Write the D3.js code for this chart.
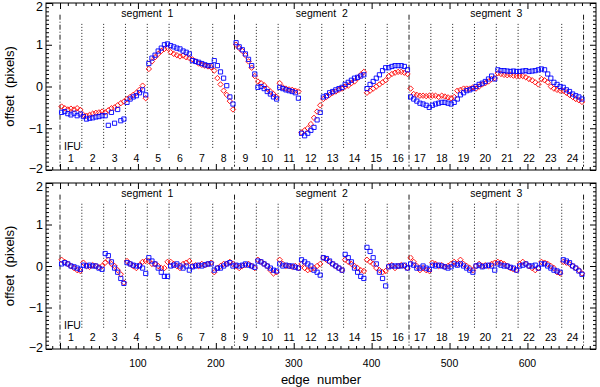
<!DOCTYPE html>
<html lang="en">
<head>
  <meta charset="UTF-8" />
  <title>Edge offsets per IFU</title>
  <script src="https://d3js.org/d3.v7.min.js"></script>
  <style>
    body { margin:0; padding:0; background:#fff; }
    svg { display:block; font-family:"Liberation Sans", Arial, sans-serif; }
    .axis text { font-size:12.5px; fill:#000; }
    .axis line { stroke:#000; }
    .axis path { display:none; }
    .lbl { font-size:10.5px; fill:#000; }
    .seg { font-size:10.5px; fill:#000; }
  </style>
</head>
<body>
  <svg width="600" height="387"></svg>

  <script>
  // segments / IFUs / axis ticks
  const segmentLabels = ["segment 1", "segment 2", "segment 3"];
  const ifuLabels = d3.range(1, 25).map(String);
  const xMajorTicks = [100, 200, 300, 400, 500, 600];
  const yMajorTicks = [-2, -1, 0, 1, 2];
  const edgesPerIfu = 28;
  const sampleEdges = [2, 6, 10, 14, 18, 22, 26];   // edge positions inside an IFU

  // top panel: measured offsets (one row per IFU)
  const topRed = [
    [-0.48,-0.52,-0.55,-0.53,-0.55,-0.52,-0.56],
    [-0.68,-0.70,-0.68,-0.65,-0.63,-0.62,-0.60],
    [-0.62,-0.57,-0.52,-0.50,-0.45,-0.40,-0.36],
    [-0.30,-0.25,-0.20,-0.15,-0.08,0.02,-0.28],
    [0.42,0.60,0.70,0.78,0.85,0.90,0.92],
    [0.82,0.78,0.75,0.72,0.74,0.70,0.68],
    [0.65,0.60,0.55,0.52,0.50,0.48,0.46],
    [0.38,0.20,0.05,-0.10,-0.20,-0.35,-0.55],
    [1.00,0.92,0.85,0.75,0.60,0.45,0.25],
    [0.12,0.08,0.03,-0.05,-0.12,-0.18,-0.25],
    [0.08,-0.02,-0.05,-0.07,-0.08,-0.10,-0.12],
    [-1.10,-1.05,-1.00,-0.90,-0.75,-0.60,-0.45],
    [-0.30,-0.25,-0.20,-0.15,-0.12,-0.08,-0.05],
    [0.00,0.02,0.08,0.12,0.20,0.28,0.35],
    [-0.15,-0.10,-0.05,0.00,0.05,0.10,0.15],
    [0.25,0.30,0.33,0.35,0.35,0.33,0.30],
    [-0.05,-0.18,-0.20,-0.22,-0.22,-0.23,-0.22],
    [-0.22,-0.22,-0.25,-0.22,-0.24,-0.26,-0.28],
    [-0.25,-0.10,-0.08,-0.05,-0.05,-0.05,-0.02],
    [-0.05,0.00,0.05,0.08,0.12,0.18,0.20],
    [0.32,0.30,0.28,0.27,0.28,0.26,0.25],
    [0.25,0.25,0.22,0.18,0.15,0.10,0.05],
    [0.18,0.15,0.10,0.00,-0.05,-0.08,-0.10],
    [-0.10,-0.15,-0.20,-0.25,-0.30,-0.33,-0.37]
  ];
  const topBlue = [
    [-0.62,-0.60,-0.65,-0.68,-0.64,-0.70,-0.66],
    [-0.72,-0.78,-0.76,-0.75,-0.73,-0.72,-0.70],
    [-0.70,-0.93,-0.62,-0.88,-0.55,-0.82,-0.78],
    [-0.38,-0.30,-0.25,-0.22,-0.15,-0.08,-0.20],
    [0.55,0.68,0.75,0.85,0.92,1.00,1.02],
    [0.98,0.95,0.92,0.90,0.85,0.82,0.78],
    [0.62,0.60,0.58,0.55,0.52,0.50,0.50],
    [0.62,0.50,0.35,0.20,0.02,-0.25,-0.42],
    [1.05,0.95,0.88,0.78,0.65,0.50,0.30],
    [-0.02,0.00,-0.05,-0.12,-0.18,-0.25,-0.30],
    [-0.02,-0.05,-0.08,-0.10,-0.12,-0.15,-0.28],
    [-1.12,-1.18,-1.12,-1.05,-0.98,-0.80,-0.62],
    [-0.25,-0.22,-0.15,-0.12,-0.08,-0.05,-0.02],
    [0.05,0.10,0.15,0.20,0.22,0.25,0.28],
    [-0.05,0.05,0.12,0.20,0.28,0.38,0.45],
    [0.45,0.48,0.50,0.50,0.50,0.48,0.40],
    [-0.25,-0.30,-0.35,-0.40,-0.42,-0.45,-0.50],
    [-0.45,-0.42,-0.40,-0.38,-0.38,-0.40,-0.42],
    [-0.38,-0.30,-0.20,-0.15,-0.10,-0.08,-0.05],
    [0.00,0.05,0.08,0.12,0.18,0.25,0.18],
    [0.40,0.38,0.38,0.37,0.36,0.37,0.36],
    [0.36,0.37,0.38,0.36,0.37,0.38,0.40],
    [0.42,0.40,0.30,0.20,0.10,0.05,0.00],
    [-0.02,-0.08,-0.12,-0.18,-0.22,-0.25,-0.30]
  ];

  // bottom panel: residual offsets
  const botRed = [
    [0.15,0.10,0.05,0.00,-0.05,-0.10,-0.12],
    [0.08,0.00,-0.02,0.02,0.00,-0.03,0.00],
    [0.08,0.15,0.05,0.00,-0.10,-0.20,-0.40],
    [0.12,0.05,0.00,-0.05,0.02,0.10,0.12],
    [0.12,0.05,0.05,0.00,-0.05,-0.05,0.10],
    [0.10,0.05,0.00,-0.05,0.05,0.08,0.12],
    [0.00,0.02,0.00,0.05,0.02,0.05,0.08],
    [-0.15,-0.05,0.00,0.05,0.05,0.10,0.05],
    [0.00,-0.05,0.00,0.02,0.05,0.00,-0.05],
    [0.15,0.10,0.05,0.00,-0.10,-0.18,-0.15],
    [0.15,0.05,0.00,0.00,-0.02,0.00,-0.05],
    [0.05,-0.05,-0.10,-0.08,-0.05,0.00,0.05],
    [0.20,0.15,0.10,0.05,0.00,-0.05,-0.10],
    [0.15,0.10,0.05,0.00,-0.05,-0.10,-0.12],
    [0.15,0.10,0.05,-0.05,-0.10,-0.15,-0.12],
    [0.00,0.02,-0.05,0.00,0.02,0.00,-0.05],
    [0.20,0.10,0.00,-0.10,-0.05,-0.10,-0.12],
    [0.08,0.05,0.00,0.02,-0.02,0.00,0.05],
    [0.10,0.05,0.15,0.05,0.00,-0.05,-0.10],
    [0.00,0.05,0.00,0.02,0.00,0.05,0.08],
    [0.10,0.08,0.05,0.00,-0.05,-0.08,-0.10],
    [0.05,0.10,0.05,0.00,-0.05,-0.10,-0.05],
    [0.10,0.08,0.05,0.00,-0.05,-0.15,-0.18],
    [0.10,0.08,0.05,0.00,-0.05,-0.10,-0.18]
  ];
  const botBlue = [
    [0.05,0.08,0.05,0.00,-0.02,-0.05,-0.08],
    [0.02,0.00,0.02,0.00,0.00,-0.05,-0.08],
    [0.30,0.25,0.10,-0.05,-0.15,-0.30,-0.42],
    [0.08,0.05,0.02,0.00,0.00,-0.05,-0.18],
    [0.20,0.12,0.05,-0.05,-0.15,-0.25,-0.25],
    [0.00,0.02,0.05,0.00,-0.05,0.00,-0.10],
    [-0.02,0.00,0.02,0.00,0.03,0.05,0.05],
    [-0.10,-0.05,-0.05,0.00,0.05,0.08,0.00],
    [0.02,0.00,0.02,0.05,0.02,0.00,-0.03],
    [0.12,0.10,0.05,0.00,-0.05,-0.10,-0.12],
    [0.05,0.00,0.02,0.00,0.00,-0.03,-0.05],
    [0.15,0.10,0.05,0.00,-0.10,-0.15,-0.22],
    [0.20,0.18,0.12,0.05,0.00,-0.05,-0.10],
    [0.28,0.20,0.10,-0.05,-0.15,-0.25,-0.30],
    [0.45,0.35,0.20,0.05,-0.15,-0.30,-0.48],
    [-0.02,0.00,0.00,0.00,0.00,0.02,-0.05],
    [0.05,0.02,-0.05,-0.05,0.00,-0.05,-0.08],
    [0.02,0.00,0.02,0.00,-0.02,-0.05,-0.02],
    [0.05,0.02,0.05,0.00,-0.05,-0.10,-0.15],
    [0.00,0.02,-0.02,0.00,0.02,0.00,-0.10],
    [0.05,0.02,0.00,0.00,-0.03,-0.05,-0.10],
    [0.00,0.02,0.05,0.00,0.00,0.02,-0.05],
    [0.05,0.05,0.00,-0.05,-0.10,-0.12,-0.15],
    [0.15,0.12,0.08,0.00,-0.05,-0.12,-0.20]
  ];

  const svg = d3.select("svg");
  const X0 = 46, X1 = 596;
  const x = d3.scaleLinear().domain([-18, 688]).range([X0, X1]);

  const panels = [
    { top: 3,   bottom: 170, red: topRed, blue: topBlue, xLabels: false },
    { top: 183, bottom: 349, red: botRed, blue: botBlue, xLabels: true }
  ];

  // flatten per-IFU rows into points
  function toPoints(rows){
    const pts = [];
    rows.forEach((row, i) => row.forEach((v, k) => {
      pts.push({ edge: i * edgesPerIfu + sampleEdges[k], v: v });
    }));
    return pts;
  }

  const diamond = "M0,-2.7L2.7,0L0,2.7L-2.7,0Z";
  const square  = "M-2.1,-2.1H2.1V2.1H-2.1Z";

  panels.forEach(p => {
    const y = d3.scaleLinear().domain([-2, 2]).range([p.bottom, p.top]);
    const g = svg.append("g");
    const H = p.bottom - p.top;

    // IFU boundaries: dotted inside a segment, dash-dot between segments
    const bounds = d3.range(0, 25).map(i => i * edgesPerIfu);
    g.selectAll(".bnd").data(bounds).enter().append("line")
      .attr("x1", d => x(d)).attr("x2", d => x(d))
      .attr("y1", d => d % (8 * edgesPerIfu) === 0 ? y(1.72) : y(1.5))
      .attr("y2", d => d % (8 * edgesPerIfu) === 0 ? y(-1.92) : y(-1.5))
      .attr("stroke", "#000")
      .attr("stroke-width", 0.9)
      .attr("stroke-dasharray", d => d % (8 * edgesPerIfu) === 0 ? "5,2,1,2" : "1,2");

    // labels
    g.selectAll(".segl").data(segmentLabels).enter().append("text")
      .attr("class", "seg")
      .attr("x", (d, i) => x((i * 8 + 4) * edgesPerIfu))
      .attr("y", p.top + 14)
      .attr("text-anchor", "middle")
      .attr("xml:space", "preserve")
      .text(d => d.replace(" ", "  "));

    g.selectAll(".ifl").data(ifuLabels).enter().append("text")
      .attr("class", "lbl")
      .attr("x", (d, i) => x(i * edgesPerIfu + edgesPerIfu / 2))
      .attr("y", p.bottom - 8)
      .attr("text-anchor", "middle")
      .text(d => d);

    g.append("text")
      .attr("class", "seg")
      .attr("font-size", "9px")
      .attr("x", x(0) + 4)
      .attr("y", p.bottom - 20)
      .text("IFU");

    // data markers
    g.selectAll(".red").data(toPoints(p.red)).enter().append("path")
      .attr("d", diamond)
      .attr("transform", d => `translate(${x(d.edge)},${y(d.v)})`)
      .attr("fill", "none").attr("stroke", "#ff0000").attr("stroke-width", 0.9);
    g.selectAll(".blue").data(toPoints(p.blue)).enter().append("path")
      .attr("d", square)
      .attr("transform", d => `translate(${x(d.edge)},${y(d.v)})`)
      .attr("fill", "none").attr("stroke", "#0000ff").attr("stroke-width", 0.9);

    // axes, ticks pointing inward on all four sides
    const xMinor = d3.range(-10, 690, 10).filter(v => v % 100 !== 0);
    const yMinor = d3.range(-19, 20).map(v => v / 10).filter(v => Math.abs(v * 10) % 10 !== 0);

    const addAxis = (axisFn, scale, tx, ty, major, minor, labels, pad) => {
      g.append("g").attr("class", "axis").attr("transform", `translate(${tx},${ty})`)
        .call(axisFn(scale).tickValues(minor).tickSizeInner(-3).tickSizeOuter(0).tickFormat(""));
      return g.append("g").attr("class", "axis").attr("transform", `translate(${tx},${ty})`)
        .call(axisFn(scale).tickValues(major).tickSizeInner(-6).tickSizeOuter(0)
          .tickPadding(pad).tickFormat(labels ? d3.format("d") : ""));
    };
    const xMaj = [0].concat(xMajorTicks);
    addAxis(d3.axisBottom, x, 0, p.bottom, xMaj, xMinor, false, 0);
    addAxis(d3.axisTop, x, 0, p.top, xMaj, xMinor, false, 0);
    const yAx = addAxis(d3.axisLeft, y, X0, 0, yMajorTicks, yMinor, true, 3);
    // keep the end labels inside the frame height, as in the original
    yAx.selectAll("text")
      .attr("dy", d => d === 2 ? "0.62em" : d === -2 ? "0.2em" : "0.32em")
      .text(d => d < 0 ? "\u2212" + Math.abs(d) : d);
    addAxis(d3.axisRight, y, X1, 0, yMajorTicks, yMinor, false, 0);

    if (p.xLabels) {
      g.selectAll(".xl").data(xMajorTicks).enter().append("text")
        .attr("class", "lbl")
        .attr("font-size", "12.5px")
        .attr("x", d => x(d))
        .attr("y", p.bottom + 18)
        .attr("text-anchor", "middle")
        .text(d => d);
    }

    // frame
    g.append("rect")
      .attr("x", X0).attr("y", p.top)
      .attr("width", X1 - X0).attr("height", H)
      .attr("fill", "none").attr("stroke", "#000").attr("stroke-width", 1);

    // y title
    g.append("text")
      .attr("transform", `translate(14,${(p.top + p.bottom) / 2}) rotate(-90)`)
      .attr("text-anchor", "middle")
      .attr("font-size", "13px")
      .attr("xml:space", "preserve")
      .text("offset  (pixels)");
  });

  svg.append("text")
    .attr("x", (X0 + X1) / 2)
    .attr("y", 384)
    .attr("text-anchor", "middle")
    .attr("font-size", "13px")
    .attr("xml:space", "preserve")
    .text("edge  number");
  </script>
</body>
</html>
